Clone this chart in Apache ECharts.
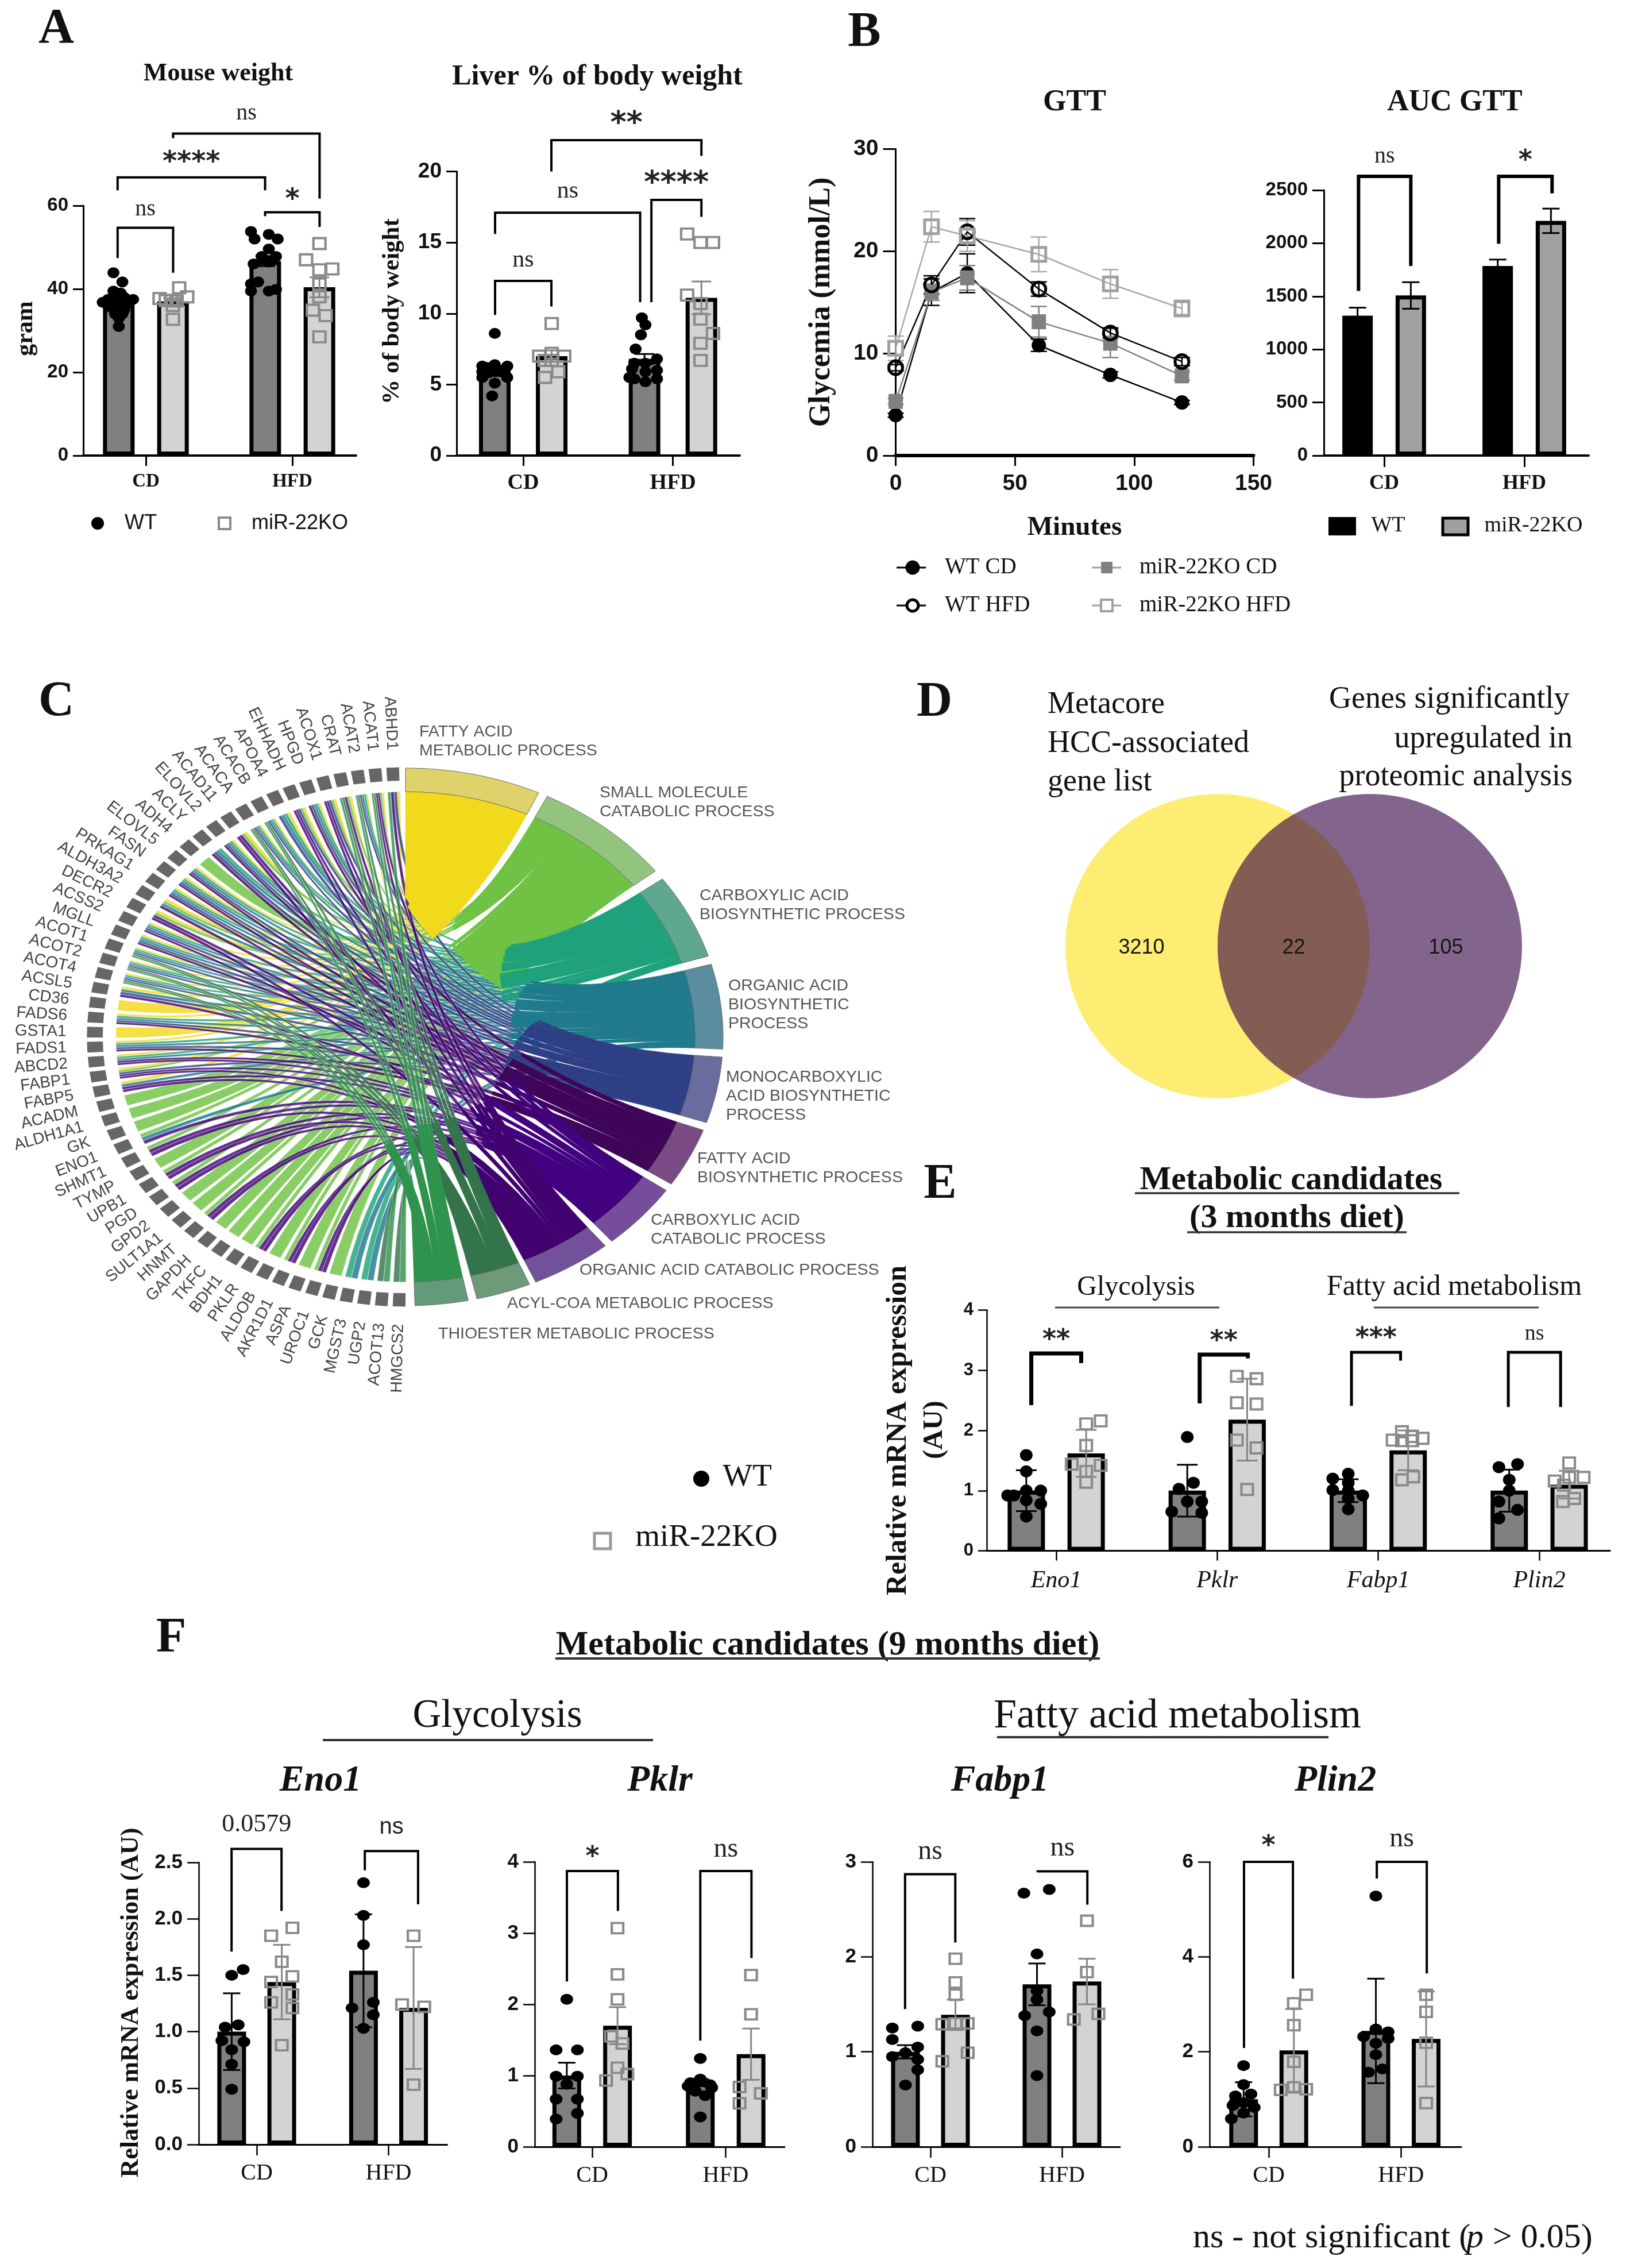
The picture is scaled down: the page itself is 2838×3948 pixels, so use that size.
<!DOCTYPE html>
<html>
<head>
<meta charset="utf-8">
<style>html,body{margin:0;padding:0;background:#fff}#main{width:2838px;height:3948px}</style>
<script src="https://cdn.jsdelivr.net/npm/echarts@6/dist/echarts.min.js"></script>
</head>
<body>
<div id="main"></div>
<script>
// ---------- DATA ----------
const dietGroups = ['CD', 'HFD'];
const geneGroups = ['Eno1', 'Pklr', 'Fabp1', 'Plin2'];

const mouseWT = [37, 46.7], mouseKO = [37, 40.4], mouseWTErr = [1, 1.2], mouseKOErr = [0.8, 2.4];
const mouseWTPts = [
  [[-.3,43.9],[.2,41.7],[-.3,39.5],[.1,39],[-.6,37.5],[-.3,38],[.3,38],[.8,37.5],[-.9,36.8],[0,36.5],[.5,36.5],[-.4,35.5],[.3,35],[-.2,34],[.2,34],[0,33],[0,31]],
  [[-.8,53.8],[-.6,52],[.2,53.1],[.7,52],[.2,49.6],[-.2,47.8],[.6,47.8],[-.65,46],[.2,46.5],[-.8,41.2],[-.4,41.7],[-.8,39.5],[.2,39.5],[.6,39.9]]];
const mouseKOPts = [
  [[.35,40.3],[-.75,37.7],[-.1,37.3],[.8,38.1],[-.4,37.2],[.2,37.1],[0,36],[0,32.7]],
  [[0,50.9],[-.75,47],[0,44.6],[.72,44.8],[0,41.2],[0,38.1],[-.37,34.9],[.35,33.6],[0,28.5]]];
const mouseBrackets = [[-.193,.186,47.4,54.7,43.9,'ns',32],[-.193,.814,63.7,66.8,63.7,'****',34],[.814,1.186,57.5,58.4,54.9,'*',30],[.186,1.186,76.2,77.3,61.7,'ns',35]];

const liverWT = [6, 6.8], liverKO = [7, 11.1], liverWTErr = [.3, .35], liverKOErr = [.4, 1.15];
const liverWTPts = [
  [[0,8.6],[-.7,6.3],[0,6.4],[.7,6.3],[-.4,5.8],[.3,5.9],[.7,5.5],[-.7,5.5],[0,5.1],[-.15,4.2],[0,5.9],[-.4,6.2],[.55,6],[-.7,5.9]],
  [[-.15,9.7],[.05,9.2],[-.2,8.5],[-.5,7.5],[.7,6.8],[-.57,6.5],[.05,6.5],[-.7,6.1],[.7,6],[.05,5.9],[-.57,5.4],[.05,5.2],[.7,5.4],[-.85,5.5]]];
const liverKOPts = [
  [[0,9.3],[-.7,7],[0,7.2],[.7,7],[0,6.7],[.37,5.9],[-.37,5.5],[-.4,6.7]],
  [[-.8,15.6],[-.05,15],[.65,15],[-.8,11.3],[-.05,10.7],[-.05,9.6],[.65,8.6],[-.05,7.9],[-.05,6.7]]];
const liverBrackets = [[-.188,.188,9.9,12.3,10.5,'ns',36],[-.188,.781,15.6,17.1,10.8,'ns',37],[.856,1.19,10.8,18,16.8,'****',37],[.188,1.19,20,22.2,21.1,'**',37]];

const gttMinutes = [0, 15, 30, 60, 90, 120];
const gttWTCD = [3.95, 16, 17.85, 10.8, 7.9, 5.2], gttWTCDErr = [.2, 1.3, 1.9, .6, .3, .2];
const gttWTHFD = [8.6, 16.7, 21.9, 16.3, 12, 9.2], gttWTHFDErr = [.3, .9, 1.3, .7, .5, .4];
const gttKOCD = [5.3, 16, 17.4, 13.1, 11, 7.8], gttKOCDErr = [.3, .8, 1.2, 1.5, 1.4, .4];
const gttKOHFD = [10.5, 22.4, 21.5, 19.7, 16.8, 14.4], gttKOHFDErr = [1.2, 1.5, 1.5, 1.7, 1.4, .8];

const aucWT = [1318, 1786], aucKO = [1508, 2211], aucWTErr = [75, 60], aucKOErr = [125, 115];
const aucBrackets = [[-.183,.19,1550,2630,1786,'ns',34,6],[.817,1.198,1995,2630,2470,'*',34,6]];

const termNames = ['FATTY ACID\nMETABOLIC PROCESS','SMALL MOLECULE\nCATABOLIC PROCESS','CARBOXYLIC ACID\nBIOSYNTHETIC PROCESS','ORGANIC ACID\nBIOSYNTHETIC\nPROCESS','MONOCARBOXYLIC\nACID BIOSYNTHETIC\nPROCESS','FATTY ACID\nBIOSYNTHETIC PROCESS','CARBOXYLIC ACID\nCATABOLIC PROCESS','ORGANIC ACID CATABOLIC PROCESS','ACYL-COA METABOLIC PROCESS','THIOESTER METABOLIC PROCESS'];
const termStart = [0, 26.5, 54, 74.3, 94.3, 110.3, 124.8, 141, 157, 168.6];
const termEnd = [24.8, 51.9, 72.5, 92.6, 108.6, 123.2, 139.5, 155.8, 167, 178.3];
const geneNames = ['ABHD1','ACAT1','ACAT2','CRAT','ACOX1','HPGD','EHHADH','APOA4','ACACB','ACACA','ACAD11','ELOVL2','ACLY','ADH4','ELOVL5','FASN','PRKAG1','ALDH3A2','DECR2','ACSS2','MGLL','ACOT1','ACOT2','ACOT4','ACSL5','CD36','FADS6','GSTA1','FADS1','ABCD2','FABP1','FABP5','ACADM','ALDH1A1','GK','ENO1','SHMT1','TYMP','UPB1','PGD','GPD2','SULT1A1','HNMT','GAPDH','TKFC','BDH1','PKLR','ALDOB','AKR1D1','ASPA','UROC1','GCK','MGST3','UGP2','ACOT13','HMGCS2'];
const geneTermCodes = ['0479','016789','023489','01789','01467','02345','01467','0234','023489','023489','0167','02345','2345','1','02345','02345','02345','0135','0167','02346','02345','023489','023489','023489','0346','0','02345','0','02345','02356','01467','0367','1','1','1','136','167','1','167','167','1','1','167','1','1','1','167','1','167','1','167','1','23','23','89','89'];

const vennCounts = ['3210', '22', '105'];

const e3WT = [1, 1, 1, 1], e3KO = [1.62, 2.18, 1.67, 1.1], e3WTErr = [.34, .43, .19, .35], e3KOErr = [.39, .68, .33, .23];
const e3WTPts = [
  [[0,1.59],[0,1.32],[-.6,.92],[0,1],[.7,1],[.7,.78],[0,.84],[-.9,.92],[0,.57]],
  [[0,1.89],[-.4,1.03],[.3,1.13],[-.75,.65],[0,.82],[.7,.82],[.7,.63]],
  [[0,1.28],[-.75,1.2],[0,1.13],[-.75,1.01],[0,1],[.7,.92],[0,.87],[0,.69]],
  [[.4,1.44],[-.5,1.39],[0,1.18],[0,1],[-.5,.82],[.4,.68],[-.5,.54]]];
const e3KOPts = [
  [[.7,2.16],[0,2.11],[0,1.75],[-.7,1.44],[.7,1.42],[0,1.32],[0,1.14]],
  [[-.5,2.9],[.45,2.86],[-.5,2.46],[.45,2.44],[-.5,1.84],[.45,1.71],[0,1.02]],
  [[-.3,1.98],[.2,1.9],[-.75,1.84],[.7,1.87],[-.3,1.83],[.2,1.83],[-.3,1.18],[.25,1.23]],
  [[0,1.46],[-.7,1.16],[.7,1.22],[0,1.22],[-.25,1.09],[.25,.87],[-.3,.82]]];
const e3Brackets = [[-.155,.155,2.42,3.28,3.12,'**',30,7],[.891,1.19,2.45,3.26,3.2,'**',30,7],[1.834,2.139,2.41,3.3,3.16,'***',31,5],[2.808,3.133,2.39,3.3,2.39,'ns',32,5]];

const f9Eno1WT = [1, 1.54], f9Eno1KO = [1.44, 1.21], f9Eno1WTErr = [.34, .5], f9Eno1KOErr = [.33, .54];
const f9Eno1WTPts = [
  [[.7,1.55],[0,1.5],[.4,1.06],[-.4,1.04],[.75,.91],[-.6,.92],[0,.84],[0,.71],[0,.49]],
  [[0,2.32],[0,2.03],[0,1.77],[.6,1.26],[-.7,1.21],[.6,1.15],[0,1.03]]];
const f9Eno1KOPts = [
  [[.65,1.92],[-.65,1.85],[0,1.62],[.65,1.49],[-.65,1.44],[.65,1.33],[-.65,1.26],[.65,1.21],[0,.88]],
  [[0,1.85],[-.7,1.24],[.65,1.22],[0,.53]]];
const f9Eno1Brackets = [[-.191,.188,1.71,2.62,2.07,'0.0579',42],[.82,1.224,2.43,2.6,2.13,'ns',41]];

const f9PklrWT = [1, .9], f9PklrKO = [1.7, 1.3], f9PklrWTErr = [.18, .05], f9PklrKOErr = [.26, .36];
const f9PklrWTPts = [
  [[0,2.07],[-.65,1.36],[.65,1.36],[.65,.99],[-.65,.99],[0,.88],[-.65,.67],[.65,.67],[.65,.47],[-.65,.39]],
  [[0,1.24],[-.6,.9],[0,.95],[.6,.87],[-.3,.78],[.3,.72],[0,.42],[-.75,.85],[.7,.83]]];
const f9PklrKOPts = [
  [[0,3.07],[0,2.42],[0,2.07],[-.4,1.55],[.3,1.45],[0,1.11],[.6,1.02],[-.7,.93]],
  [[0,2.41],[0,1.86],[-.7,.84],[.6,.75],[-.7,.61]]];
const f9PklrBrackets = [[-.189,.193,2.32,3.87,3.31,'*',31],[.81,1.193,1.49,3.87,2.65,'ns',38]];

const f9Fabp1WT = [1, 1.71], f9Fabp1KO = [1.39, 1.74], f9Fabp1WTErr = [.07, .22], f9Fabp1KOErr = [.16, .24];
const f9Fabp1WTPts = [
  [[-.8,1.25],[.75,1.27],[-.8,1.13],[.75,1.05],[0,.99],[-.8,.95],[.75,.92],[.75,.81],[0,.65]],
  [[-.8,2.67],[.75,2.71],[0,2.03],[0,1.64],[0,1.55],[-.75,1.38],[.75,1.42],[0,1.22],[0,.75]]];
const f9Fabp1KOPts = [
  [[0,1.98],[0,1.73],[0,1.6],[-.8,1.29],[0,1.3],[.75,1.3],[.75,.99],[-.8,.9]],
  [[0,2.38],[0,1.84],[.7,1.4],[-.8,1.34]]];
const f9Fabp1Brackets = [[-.193,.189,1.45,2.87,2.15,'ns',39],[.815,1.193,2.89,2.9,2.55,'ns',40]];

const f9Plin2WT = [1, 2.44], f9Plin2KO = [2.03, 2.27], f9Plin2WTErr = [.36, 1.1], f9Plin2KOErr = [.87, 1];
const f9Plin2WTPts = [
  [[0,1.71],[0,1.31],[-.5,1.07],[.45,1.11],[0,.93],[-.65,.87],[.65,.83],[0,.71],[-.75,.59]],
  [[0,5.28],[.75,2.42],[0,2.48],[-.75,2.32],[.75,2.28],[0,2.18],[0,1.94],[.4,1.64],[-.45,1.57]]];
const f9Plin2KOPts = [
  [[.75,3.2],[0,3.02],[0,2.56],[0,1.79],[-.8,1.2],[0,1.25],[.75,1.21]],
  [[0,3.2],[0,2.84],[0,2.19],[0,.92]]];
const f9Plin2Brackets = [[-.187,.183,2.08,6,3.54,'*',34],[.817,1.195,5.65,6,3.65,'ns',40]];

// ---------- STYLE ----------
const SERIF = '"Liberation Serif"', SANS = '"Liberation Sans"', STAR = '"DejaVu Sans"';
const termColors = ['#f1d91c','#6fc243','#1fa27c','#1f7a8c','#2f3f85','#3f0559','#42027f','#40036f','#34744a','#2f934d'];
const ringColors = ['#dfd26a','#93c47d','#5fa890','#5a8e9e','#6a6b9e','#7a4a85','#764d9c','#72509a','#6d9a78','#639a78'];

const option = {backgroundColor:'#fff', animation:false, grid:[], xAxis:[], yAxis:[], series:[], graphic:{elements:[]}};
const G = option.graphic.elements;
function T(text,x,y,font,o){o=o||{};G.push({type:'text',x:x,y:y,rotation:o.rot||0,silent:true,z:50,style:{text:text,font:font,fill:o.fill||'#111',align:o.align||'center',verticalAlign:'middle',textAlign:o.align||'center',textVerticalAlign:'middle',lineHeight:o.lh}});}
function L(x1,y1,x2,y2,w,c){G.push({type:'line',silent:true,z:50,shape:{x1,y1,x2,y2},style:{stroke:c||'#333',lineWidth:w||3}});}

function barPanel(c){
  const gi=option.grid.length, left=c.left, right=c.right, top=c.top, y0=c.y0;
  option.grid.push({left:left,top:top,width:right-left,height:y0-top,containLabel:false});
  const xmin=(left-c.tick0)/c.spacing, xmax=(right-c.tick0)/c.spacing;
  const ticks=c.cats.map((_,i)=>i);
  const tickStyle={color:'#000',width:c.tickW||3};
  const xTick=c.xTick||18, yTick=c.yTick||18;
  option.xAxis.push({gridIndex:gi,type:'value',min:xmin,max:xmax,splitLine:{show:false},
    axisLine:{show:true,onZero:false,lineStyle:{color:'#000',width:c.xLineW||4}},
    axisTick:{show:true,customValues:ticks,length:xTick,lineStyle:tickStyle},
    axisLabel:{show:true,customValues:ticks,margin:xTick+(c.xMargin||11),fontFamily:SERIF,fontSize:c.xFont||34,fontWeight:c.xWeight||'bold',fontStyle:c.xStyle||'normal',color:'#111',formatter:v=>c.cats[Math.round(v)]}});
  option.yAxis.push({gridIndex:gi,type:'value',min:0,max:c.ymax,interval:c.yint,splitLine:{show:false},
    axisLine:{show:true,onZero:false,lineStyle:{color:'#000',width:c.yLineW||3}},
    axisTick:{show:true,length:yTick,lineStyle:tickStyle},
    axisLabel:{show:true,margin:yTick+(c.yMargin||8),fontFamily:SANS,fontSize:c.yFont||33,fontWeight:'bold',color:'#111',formatter:c.yFmt||(v=>String(v))}});
  const dx=c.dx, halfBar=(c.barW+c.border)/2/c.spacing;
  const base={xAxisIndex:gi,yAxisIndex:gi,silent:true,animation:false};
  option.series.push(Object.assign({},base,{type:'bar',name:'WT',barWidth:c.barW,barGap:'-100%',z:2,itemStyle:{color:c.wtColor||'#808080',borderColor:'#000',borderWidth:c.border},data:c.wt.map((v,i)=>[i-dx,v])}));
  option.series.push(Object.assign({},base,{type:'bar',name:'miR-22KO',barWidth:c.barW,barGap:'-100%',z:2,itemStyle:{color:c.koColor||'#d3d3d3',borderColor:'#000',borderWidth:c.border},data:c.ko.map((v,i)=>[i+dx,v])}));
  function err(vals,errs,side,color){
    option.series.push(Object.assign({},base,{type:'custom',z:3,clip:false,encode:{x:0,y:[1,2]},
      data:vals.map((v,i)=>[i+side*dx,v+errs[i],v-errs[i]]),
      renderItem:(p,api)=>{const a=api.coord([api.value(0),api.value(1)]),b=api.coord([api.value(0),api.value(2)]),w=c.cap/2,s={stroke:color,lineWidth:3};
        return {type:'group',children:[{type:'line',shape:{x1:a[0],y1:a[1],x2:b[0],y2:b[1]},style:s},{type:'line',shape:{x1:a[0]-w,y1:a[1],x2:a[0]+w,y2:a[1]},style:s},{type:'line',shape:{x1:b[0]-w,y1:b[1],x2:b[0]+w,y2:b[1]},style:s}]};}}));
  }
  err(c.wt,c.wtErr,-1,'#000'); err(c.ko,c.koErr,1,c.koErrColor||'#858585');
  if(c.wtPts){
    const flat=(pts,side)=>pts.flatMap((g,i)=>g.map(p=>[i+side*dx+p[0]*halfBar,p[1]]));
    option.series.push(Object.assign({},base,{type:'scatter',z:4,symbol:'circle',symbolSize:c.dot||[21,19],itemStyle:{color:'#000',opacity:1},data:flat(c.wtPts,-1)}));
    option.series.push(Object.assign({},base,{type:'scatter',z:4,symbol:'rect',symbolSize:c.sq||[21,19],itemStyle:{color:'rgba(255,255,255,0)',borderColor:'#8a8a8a',borderWidth:4,opacity:1},data:flat(c.koPts,1)}));
  }
  if(c.brackets){
    const br=c.brackets;
    option.series.push(Object.assign({},base,{type:'custom',z:5,clip:false,encode:{x:[0,1],y:[2,3,4]},
      data:br.map(b=>b.slice(0,5)),
      renderItem:(p,api)=>{const b=br[p.dataIndex];
        const a0=api.coord([b[0],b[2]]),a1=api.coord([b[0],b[3]]),a2=api.coord([b[1],b[3]]),a3=api.coord([b[1],b[4]]);
        const star=/^\*+$/.test(b[5]), isNum=/\d/.test(b[5]);
        const sansNs=c.nsFamily&&p.dataIndex==1;
        const fs=star?(c.starFont||46):isNum?44:(c.nsFont||40);
        const font=star?('bold '+fs+'px '+STAR):(fs+'px '+(sansNs?c.nsFamily:SERIF));
        const yt=a1[1]-b[6]+(star?fs*0.18:0);
        return {type:'group',children:[
          {type:'polyline',shape:{points:[a0,a1,a2,a3]},style:{stroke:'#000',lineWidth:b[7]||c.brW||4,fill:'none'}},
          {type:'text',x:(a1[0]+a2[0])/2,y:yt,style:{text:b[5],font:font,fill:'#222',align:'center',verticalAlign:'middle',textAlign:'center',textVerticalAlign:'middle'}}]};}}));
  }
}

// ---- Panel A
barPanel({left:145,right:620,top:358,y0:793,tick0:254,spacing:255,cats:dietGroups,ymax:60,yint:20,dx:.185,barW:55,border:7,cap:34,xFont:33,yFont:33,
  wt:mouseWT,ko:mouseKO,wtErr:mouseWTErr,koErr:mouseKOErr,wtPts:mouseWTPts,koPts:mouseKOPts,brackets:mouseBrackets,nsFont:40,starFont:48});
barPanel({left:795,right:1288,top:298.5,y0:793,tick0:911,spacing:260.7,cats:dietGroups,ymax:20,yint:5,dx:.19,barW:55,border:7,cap:34,xFont:38,yFont:37,
  wt:liverWT,ko:liverKO,wtErr:liverWTErr,koErr:liverKOErr,wtPts:liverWTPts,koPts:liverKOPts,brackets:liverBrackets,nsFont:42,starFont:54});
// ---- Panel B AUC
barPanel({left:2305,right:2766,top:331,y0:793,tick0:2410,spacing:244,cats:dietGroups,ymax:2500,yint:500,dx:.19,barW:53,border:7,cap:30,xFont:36,yFont:33,xTick:20,yTick:20,xLineW:4,
  wt:aucWT,ko:aucKO,wtErr:aucWTErr,koErr:aucKOErr,wtColor:'#000',koColor:'#a0a0a0',koErrColor:'#000',brackets:aucBrackets,nsFont:40,starFont:46});
// ---- Panel E
barPanel({left:1718,right:2803,top:2280.6,y0:2699.6,tick0:1839,spacing:280.3,cats:geneGroups,ymax:4,yint:1,dx:.186,barW:65,border:7,cap:36,xFont:42,xWeight:'normal',xStyle:'italic',xMargin:14,yFont:31,yTick:15,xTick:17,yLineW:2.5,xLineW:3,tickW:2.5,
  wt:e3WT,ko:e3KO,wtErr:e3WTErr,koErr:e3KOErr,wtPts:e3WTPts,koPts:e3KOPts,brackets:e3Brackets,nsFont:38,starFont:46,dot:[22,21],sq:[20,19]});
// ---- Panel F
const fBase={y0:3737,top:3241,cats:dietGroups,xFont:40,xWeight:'normal',xTick:19,yTick:20,yFont:35,yLineW:2.5,xLineW:3,tickW:2.5,dx:.19,barW:50,border:7,cap:30,dot:[22,19],sq:[20,18],nsFont:48,starFont:46};
barPanel(Object.assign({},fBase,{left:346,right:778.5,y0:3733,top:3242,tick0:447,spacing:229.5,ymax:2.5,yint:.5,yFmt:v=>v.toFixed(1),
  wt:f9Eno1WT,ko:f9Eno1KO,wtErr:f9Eno1WTErr,koErr:f9Eno1KOErr,wtPts:f9Eno1WTPts,koPts:f9Eno1KOPts,brackets:f9Eno1Brackets,nsFamily:SANS,nsFont:40}));
barPanel(Object.assign({},fBase,{left:931,right:1366,tick0:1031,spacing:232.5,ymax:4,yint:1,
  wt:f9PklrWT,ko:f9PklrKO,wtErr:f9PklrWTErr,koErr:f9PklrKOErr,wtPts:f9PklrWTPts,koPts:f9PklrKOPts,brackets:f9PklrBrackets}));
barPanel(Object.assign({},fBase,{left:1519,right:1950,tick0:1620,spacing:229,ymax:3,yint:1,
  wt:f9Fabp1WT,ko:f9Fabp1KO,wtErr:f9Fabp1WTErr,koErr:f9Fabp1KOErr,wtPts:f9Fabp1WTPts,koPts:f9Fabp1KOPts,brackets:f9Fabp1Brackets}));
barPanel(Object.assign({},fBase,{left:2106,right:2544,tick0:2209,spacing:230.3,ymax:6,yint:2,
  wt:f9Plin2WT,ko:f9Plin2KO,wtErr:f9Plin2WTErr,koErr:f9Plin2KOErr,wtPts:f9Plin2WTPts,koPts:f9Plin2KOPts,brackets:f9Plin2Brackets}));

// ---- GTT line chart
(function(){
  const gi=option.grid.length;
  option.grid.push({left:1559.5,top:259.6,width:623,height:533.4});
  option.xAxis.push({gridIndex:gi,type:'value',min:0,max:150,interval:50,splitLine:{show:false},
    axisLine:{show:true,onZero:false,lineStyle:{color:'#000',width:6}},axisTick:{show:true,length:18,lineStyle:{color:'#000',width:3}},
    axisLabel:{margin:30,fontFamily:SANS,fontWeight:'bold',fontSize:39,color:'#111'}});
  option.yAxis.push({gridIndex:gi,type:'value',min:0,max:30,interval:10,splitLine:{show:false},
    axisLine:{show:true,onZero:false,lineStyle:{color:'#000',width:3}},axisTick:{show:true,length:22,lineStyle:{color:'#000',width:3}},
    axisLabel:{margin:30,fontFamily:SANS,fontWeight:'bold',fontSize:39,color:'#111'}});
  const defs=[
    ['WT CD',gttWTCD,gttWTCDErr,'#000','circle',{color:'#000'},[25,25]],
    ['miR-22KO CD',gttKOCD,gttKOCDErr,'#808080','rect',{color:'#808080'},[25,26]],
    ['WT HFD',gttWTHFD,gttWTHFDErr,'#000','circle',{color:'rgba(255,255,255,0)',borderColor:'#000',borderWidth:5},[24,24]],
    ['miR-22KO HFD',gttKOHFD,gttKOHFDErr,'#a8a8a8','rect',{color:'rgba(255,255,255,0)',borderColor:'#a0a0a0',borderWidth:5},[24,24]]];
  defs.forEach(d=>{
    option.series.push({type:'custom',xAxisIndex:gi,yAxisIndex:gi,z:2,silent:true,clip:false,encode:{x:0,y:[1,2]},
      data:gttMinutes.map((m,i)=>[m,d[1][i]+d[2][i],d[1][i]-d[2][i]]),
      renderItem:(p,api)=>{const a=api.coord([api.value(0),api.value(1)]),b=api.coord([api.value(0),api.value(2)]),w=14,s={stroke:d[3],lineWidth:2.5};
        return {type:'group',children:[{type:'line',shape:{x1:a[0],y1:a[1],x2:b[0],y2:b[1]},style:s},{type:'line',shape:{x1:a[0]-w,y1:a[1],x2:a[0]+w,y2:a[1]},style:s},{type:'line',shape:{x1:b[0]-w,y1:b[1],x2:b[0]+w,y2:b[1]},style:s}]};}});
    option.series.push({type:'line',name:d[0],xAxisIndex:gi,yAxisIndex:gi,z:3,silent:true,clip:false,symbol:d[4],symbolSize:d[6],showAllSymbol:true,
      lineStyle:{color:d[3],width:2.5},itemStyle:d[5],data:gttMinutes.map((m,i)=>[m,d[1][i]])});
  });
})();

// ---- Chord diagram: ellipse-shaped, drawn through a hidden cartesian grid spanning [-1,1]
(function(){
  const gi=option.grid.length;
  option.grid.push({left:153,top:1337,width:1106,height:936});
  option.xAxis.push({gridIndex:gi,type:'value',min:-1,max:1,show:false});
  option.yAxis.push({gridIndex:gi,type:'value',min:-1,max:1,show:false});
  const rad=d=>d*Math.PI/180, pt=(deg,r)=>[r*Math.sin(rad(deg)),r*Math.cos(rad(deg))];
  const geneAngle=i=>-2.3-i*3.21, R=.912, BULGE=.004;
  const geneTerms=geneTermCodes.map(s=>s.split('').map(Number));
  const termMembers=termNames.map((_,t)=>geneTerms.map((g,i)=>g.includes(t)?i:-1).filter(i=>i>=0));
  const ribbons=[];
  geneTerms.forEach((list,g)=>{
    const ga=geneAngle(g), w=2.5/list.length;
    // clockwise inside a gene slot means descending term order, so ribbons do not twist
    list.slice().sort((a,b)=>b-a).forEach((t,k)=>{
      const idx=termMembers[t].indexOf(g), span=(termEnd[t]-termStart[t])/termMembers[t].length;
      ribbons.push({t:t,a0:ga-1.25+k*w,a1:ga-1.25+(k+1)*w,b0:termStart[t]+idx*span,b1:termStart[t]+(idx+1)*span});
    });
  });
  ribbons.sort((p,q)=>p.t-q.t);
  const bez=(p,c,q,s)=>{const u=1-s;return [u*u*p[0]+2*u*s*c[0]+s*s*q[0],u*u*p[1]+2*u*s*c[1]+s*s*q[1]];};
  function ribbonPts(r,from){
    // from = 0 gives the whole ribbon; from > 0 gives only the part of it close to the term
    const out=[],N=22,A0=pt(r.a0,R),A1=pt(r.a1,R),B0=pt(r.b0,R),B1=pt(r.b1,R);
    // the two edges bend round slightly different control points, keeping the ribbon wide mid-way
    const dx=B0[0]-A1[0],dy=B0[1]-A1[1],len=Math.hypot(dx,dy)||1;
    let nx=-dy/len,ny=dx/len;
    if(nx*((A1[0]+B0[0])-(A0[0]+B1[0]))+ny*((A1[1]+B0[1])-(A0[1]+B1[1]))<0){nx=-nx;ny=-ny;}
    const C1=[nx*BULGE,ny*BULGE],C2=[-nx*BULGE,-ny*BULGE];
    if(!from)out.push(A0,A1);
    for(let i=1;i<N;i++){const s=i/N;if(s>=from)out.push(bez(A1,C1,B0,s));}
    out.push(B0);
    const M=Math.max(1,Math.ceil((r.b1-r.b0)/2));
    for(let i=1;i<=M;i++)out.push(pt(r.b0+(r.b1-r.b0)*i/M,R));
    for(let i=1;i<N;i++){const s=i/N;if(s<=1-from)out.push(bez(B1,C2,A0,s));}
    return out;
  }
  const base={xAxisIndex:gi,yAxisIndex:gi,type:'custom',silent:true,clip:false,encode:{x:0,y:1}};
  option.series.push(Object.assign({},base,{z:2,data:ribbons.map(r=>[r.t,r.b0]),
    renderItem:(p,api)=>{const r=ribbons[p.dataIndex];
      return {type:'polygon',shape:{points:ribbonPts(r,0).map(q=>api.coord(q))},style:{fill:termColors[r.t],opacity:.82,stroke:'rgba(255,255,255,.6)',lineWidth:1}};}}));
  // solid fans next to the term arcs, as in the reference
  option.series.push(Object.assign({},base,{z:2.5,data:ribbons.map(r=>[r.t,r.b0]),
    renderItem:(p,api)=>{const r=ribbons[p.dataIndex];
      return {type:'polygon',shape:{points:ribbonPts(r,.68).map(q=>api.coord(q))},style:{fill:termColors[r.t],stroke:termColors[r.t],lineWidth:.5}};}}));
  option.series.push(Object.assign({},base,{z:3,data:termStart.map((s,i)=>[s,termEnd[i]]),
    renderItem:(p,api)=>{const s=api.value(0),e=api.value(1),pts=[],n=Math.ceil((e-s)/1.5);
      for(let i=0;i<=n;i++)pts.push(pt(s+(e-s)*i/n,1));
      for(let i=n;i>=0;i--)pts.push(pt(s+(e-s)*i/n,R));
      return {type:'polygon',shape:{points:pts.map(q=>api.coord(q))},style:{fill:ringColors[p.dataIndex],stroke:'#6b6b6b',lineWidth:1}};}}));
  option.series.push(Object.assign({},base,{z:3,data:geneNames.map((_,i)=>[geneAngle(i),1]),
    renderItem:(p,api)=>{const a=api.value(0),h=1.15,pts=[pt(a-h,1.003),pt(a+h,1.003),pt(a+h,.953),pt(a-h,.953)];
      const lab=api.coord(pt(a,1.068)),c=api.coord([0,0]);
      const rot=-Math.atan2(c[1]-lab[1],c[0]-lab[0]);
      return {type:'group',children:[
        {type:'polygon',shape:{points:pts.map(q=>api.coord(q))},style:{fill:'#666'}},
        {type:'text',x:lab[0],y:lab[1],rotation:rot,style:{text:geneNames[p.dataIndex],font:'28px '+SANS,fill:'#444',align:'right',verticalAlign:'middle',textAlign:'right',textVerticalAlign:'middle'}}]};}}));
})();

// ---- Venn diagram: two unit circles at x = -0.5 and x = 0.5 of a hidden grid
(function(){
  const gi=option.grid.length;
  option.grid.push({left:1855,top:1382,width:795,height:530});
  option.xAxis.push({gridIndex:gi,type:'value',min:-1.5,max:1.5,show:false});
  option.yAxis.push({gridIndex:gi,type:'value',min:-1,max:1,show:false});
  const arc=(cx,a,b)=>{const o=[];for(let i=0;i<=90;i++){const t=(a+(b-a)*i/90)*Math.PI/180;o.push([cx+Math.cos(t),Math.sin(t)]);}return o;};
  const regions=[{pts:arc(-.5,0,360),fill:'#fded73'},{pts:arc(.5,0,360),fill:'#82648c'},{pts:arc(.5,120,240).concat(arc(-.5,-60,60)),fill:'#835d53'}];
  option.series.push({type:'custom',xAxisIndex:gi,yAxisIndex:gi,silent:true,clip:false,z:2,encode:{x:0,y:1},data:[[-.5,0],[.5,0],[0,0]],
    renderItem:(p,api)=>({type:'polygon',shape:{points:regions[p.dataIndex].pts.map(q=>api.coord(q))},style:{fill:regions[p.dataIndex].fill}})});
  option.series.push({type:'custom',xAxisIndex:gi,yAxisIndex:gi,silent:true,clip:false,z:3,encode:{x:0,y:1},data:[[-1,0],[0,0],[1,0]],
    renderItem:(p,api)=>{const c=api.coord([api.value(0),api.value(1)]);
      return {type:'text',x:c[0],y:c[1]+3,style:{text:vennCounts[p.dataIndex],font:'36px '+SANS,fill:'#161616',align:'center',verticalAlign:'middle',textAlign:'center',textVerticalAlign:'middle'}};}});
})();

// ---------- TEXT & ANNOTATION ----------
const B=(s,f)=>'bold '+s+'px '+(f||SERIF), R_=(s,f)=>s+'px '+(f||SERIF);
[['A',98,52],['B',1505,58],['C',98,1223],['D',1627,1224],['E',1637,2063],['F',298,2853]].forEach(a=>T(a[0],a[1],a[2],B(86)));
T('Mouse weight',380,129,B(44)); T('Liver % of body weight',1040,134,B(50));
T('gram',45,572,B(42),{rot:Math.PI/2}); T('% of body weight',683,542,B(43),{rot:Math.PI/2});
// legend A
G.push({type:'circle',silent:true,shape:{cx:170,cy:911,r:11},style:{fill:'#000'}});
G.push({type:'rect',silent:true,shape:{x:381,y:901,width:20,height:20},style:{fill:'none',stroke:'#8a8a8a',lineWidth:4}});
T('WT',245,911,R_(36,SANS)); T('miR-22KO',522,911,R_(36,SANS));
// B
T('GTT',1871,179,B(52)); T('AUC GTT',2533,179,B(52));
T('Glycemia (mmol/L)',1431,526,B(52),{rot:Math.PI/2}); T('Minutes',1871,919,B(47));
[[1561,1612,1589,988,'circle','#000','#000','WT CD',1645],[1561,1612,1589,1054,'circle','#fff','#000','WT HFD',1645],[1901,1952,1927,988,'rect','#808080','#808080','miR-22KO CD',1984],[1901,1952,1927,1054,'rect','#fff','#a0a0a0','miR-22KO HFD',1984]].forEach(e=>{
  L(e[0],e[3],e[1],e[3],3,e[4]=='rect'?'#a0a0a0':'#000');
  if(e[4]=='circle')G.push({type:'circle',silent:true,z:51,shape:{cx:e[2],cy:e[3],r:10},style:{fill:e[5],stroke:e[6],lineWidth:5}});
  else G.push({type:'rect',silent:true,z:51,shape:{x:e[2]-10,y:e[3]-10,width:20,height:20},style:{fill:e[5],stroke:e[6],lineWidth:e[5]=='#fff'?4:0}});
  T(e[7],e[8],e[3],R_(39),{align:'left'});
});
G.push({type:'rect',silent:true,shape:{x:2313,y:900,width:48,height:32},style:{fill:'#000'}});
G.push({type:'rect',silent:true,shape:{x:2512,y:902,width:44,height:29},style:{fill:'#a0a0a0',stroke:'#000',lineWidth:5}});
T('WT',2417,915,R_(38)); T('miR-22KO',2670,915,R_(38));
// C terms & legend
[[730,1290.5],[1044,1397],[1218,1575.5],[1268,1749],[1264,1908],[1214,2033.5],[1133,2141],[1009,2211],[883,2269],[763,2322]].forEach((p,i)=>
  T(termNames[i],p[0],p[1],R_(28.5,SANS),{align:'left',fill:'#555',lh:33}));
G.push({type:'circle',silent:true,shape:{cx:1221,cy:2574,r:14},style:{fill:'#000'}});
G.push({type:'rect',silent:true,shape:{x:1035,y:2669,width:28,height:27},style:{fill:'none',stroke:'#9a9a9a',lineWidth:5}});
T('WT',1301,2572,R_(55)); T('miR-22KO',1230,2677,R_(55));
// D
T('Metacore',1824,1227,R_(54),{align:'left'}); T('HCC-associated',1824,1295,R_(54),{align:'left'}); T('gene list',1824,1362,R_(54),{align:'left'});
T('Genes significantly',2314,1218,R_(54),{align:'left'}); T('upregulated in',2738,1287,R_(54),{align:'right'}); T('proteomic analysis',2738,1353,R_(54),{align:'right'});
// E
T('Metabolic candidates',2248,2055,B(58)); L(1976,2077,2541,2077,3.5);
T('(3 months diet)',2258,2121,B(58)); L(2067,2145,2449,2145,3.5);
T('Glycolysis',1978,2241,R_(48)); L(1837,2276,2123,2276,3,'#444');
T('Fatty acid metabolism',2532,2241,R_(50)); L(2392,2276,2679,2276,3,'#444');
T('Relative mRNA expression',1564,2490,B(50),{rot:Math.PI/2}); T('(AU)',1628,2489,B(48),{rot:Math.PI/2});
// F
T('Metabolic candidates (9 months diet)',1441,2864,B(60)); L(967,2887,1915,2887,4,'#333');
T('Glycolysis',866,2988,R_(69)); L(562,3029,1137,3029,4,'#333');
T('Fatty acid metabolism',2050,2988,R_(72)); L(1736,3024,2313,3024,4,'#333');
[['Eno1',558],['Pklr',1149],['Fabp1',1741],['Plin2',2325]].forEach(a=>T(a[0],a[1],3100,'italic bold 64px '+SERIF));
T('Relative mRNA expression (AU)',229,3486,B(44),{rot:Math.PI/2});
T('ns - not significant (',2077,3896,R_(60),{align:'left'});
T('p',2553,3896,'italic 60px '+SERIF,{align:'left'});
T('> 0.05)',2599,3896,R_(60),{align:'left'});

const chart=echarts.init(document.getElementById('main'));
chart.setOption(option);
</script>
</body>
</html>
